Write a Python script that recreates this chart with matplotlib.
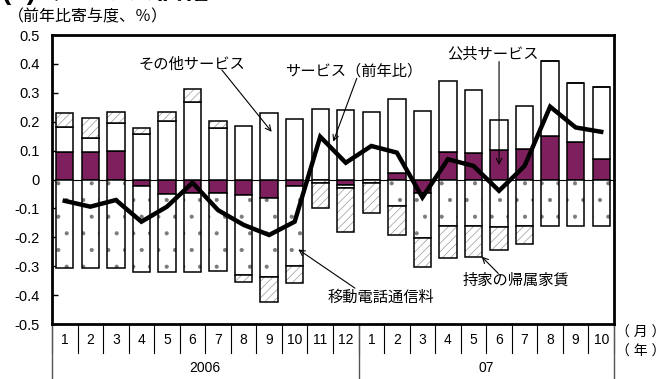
import numpy as np
import matplotlib
matplotlib.use("Agg")
import matplotlib.pyplot as plt
from matplotlib.ticker import FuncFormatter

plt.rcParams['font.family'] = ['Liberation Sans', 'Noto Sans CJK JP', 'DejaVu Sans']
plt.rcParams['hatch.linewidth'] = 0.5

# 2006/1 .. 2007/10
months = ['1', '2', '3', '4', '5', '6', '7', '8', '9', '10', '11', '12',
          '1', '2', '3', '4', '5', '6', '7', '8', '9', '10']
years = ['2006', '07']
year_len = [12, 10]

# contributions (% pt)
public = [0.094, 0.094, 0.100, -0.022, -0.051, -0.048, -0.048, -0.054, -0.065, -0.022, 0.0,
          -0.019, 0.0, 0.024, -0.046, 0.096, 0.093, 0.102, 0.104, 0.150, 0.131, 0.071]
other = [0.089, 0.051, 0.094, 0.156, 0.204, 0.267, 0.177, 0.185, 0.229, 0.208, 0.245,
         0.240, 0.232, 0.253, 0.238, 0.245, 0.217, 0.104, 0.152, 0.260, 0.204, 0.250]
mobile = [-0.305, -0.305, -0.305, -0.298, -0.269, -0.272, -0.270, -0.276, -0.273, -0.277, -0.012,
          -0.011, -0.012, -0.092, -0.158, -0.161, -0.161, -0.163, -0.161, -0.161, -0.161, -0.161]
rent = [0.046, 0.067, 0.040, 0.023, 0.031, 0.045, 0.027, -0.024, -0.085, -0.058, -0.086,
        -0.150, -0.103, -0.100, -0.098, -0.112, -0.108, -0.081, -0.062, 0.0, 0.0, 0.0]
services = [-0.074, -0.094, -0.071, -0.146, -0.094, -0.011, -0.106, -0.157, -0.192, -0.146, 0.148,
            0.058, 0.116, 0.093, -0.062, 0.070, 0.047, -0.039, 0.047, 0.252, 0.180, 0.165]

purple = '#7E1F5E'
x = np.arange(len(months))
w = 0.68

fig = plt.figure(figsize=(6.69, 3.79), dpi=100)
ax = fig.add_axes([52 / 669, 55 / 379, 562 / 669, 289 / 379])

pos = np.zeros(len(x))
neg = np.zeros(len(x))


def stack(vals, hatch_color=None, **kw):
    vals = np.asarray(vals)
    bottom = np.where(vals >= 0, pos, neg)
    bars = ax.bar(x, vals, w, bottom=bottom, edgecolor='black', linewidth=1.1, zorder=2, **kw)
    if hatch_color:
        for p in bars:
            p._hatch_color = matplotlib.colors.to_rgba(hatch_color)
    pos[:] = np.where(vals >= 0, pos + vals, pos)
    neg[:] = np.where(vals < 0, neg + vals, neg)


stack(public, color=purple)
stack(other, color='white')
stack(mobile, color='white', hatch='.', hatch_color='#7a7a7a')
stack(rent, color='white', hatch='////', hatch_color='#9a9a9a')

ax.axhline(0, color='black', lw=0.8, zorder=1)
ax.plot(x, services, color='black', lw=3.2, zorder=4, solid_joinstyle='miter')

ax.set_xlim(-0.5, len(x) - 0.5)
ax.set_ylim(-0.5, 0.5)
ax.set_yticks(np.round(np.arange(-0.5, 0.51, 0.1), 1))
ax.yaxis.set_major_formatter(FuncFormatter(lambda v, _: '0' if abs(v) < 1e-9 else f'{v:.1f}'))
ax.tick_params(axis='y', direction='in', length=4, width=1, labelsize=10.5, pad=9)
ax.set_xticks([])
for s in ax.spines.values():
    s.set_linewidth(2)

# month / year table under the axis
trans = ax.get_xaxis_transform()
for k in range(len(x) + 1):
    ax.plot([k - 0.5, k - 0.5], [0, -0.10], color='black', lw=0.8, transform=trans, clip_on=False)
for i, m in enumerate(months):
    ax.text(i, -0.055, m, ha='center', va='center', fontsize=10, transform=trans)
start = 0
for yl, n in zip(years, year_len):
    ax.plot([start - 0.5, start - 0.5], [0, -0.2], color='#555555', lw=1, transform=trans, clip_on=False)
    ax.text(start + n / 2 - 0.5, -0.152, yl, ha='center', va='center', fontsize=10, transform=trans)
    start += n
ax.plot([start - 0.5, start - 0.5], [0, -0.2], color='#555555', lw=1, transform=trans, clip_on=False)
ax.text(1.004, -0.031, '（ 月 ）', ha='left', va='center', fontsize=10, transform=ax.transAxes)
ax.text(1.004, -0.097, '（ 年 ）', ha='left', va='center', fontsize=10, transform=ax.transAxes)

# titles (the top title is cut by the image edge, as in the source)
fig.text(210 / 669, 1.026, '(2) サービス価格', fontsize=20, weight='bold', va='center', ha='right')
fig.text(0.012, 0.955, '（前年比寄与度、％）', fontsize=11.5, va='center', ha='left')

# annotations
arrow = dict(arrowstyle='->', color='black', lw=0.8, shrinkA=0, shrinkB=0)
ax.text(4.98, 0.396, 'その他サービス', fontsize=11, ha='center', va='center')
ax.annotate('', xy=(8.1, 0.165), xytext=(6.15, 0.379), arrowprops=arrow)
ax.text(11.32, 0.373, 'サービス（前年比）', fontsize=11, ha='center', va='center')
ax.annotate('', xy=(10.51, 0.131), xytext=(11.43, 0.350), arrowprops=arrow)
ax.text(16.76, 0.431, '公共サービス', fontsize=11, ha='center', va='center')
ax.annotate('', xy=(17.0, 0.050), xytext=(17.0, 0.408), arrowprops=arrow)
ax.text(12.38, -0.407, '移動電話通信料', fontsize=11, ha='center', va='center')
ax.annotate('', xy=(9.14, -0.242), xytext=(11.36, -0.376), arrowprops=arrow)
ax.text(17.66, -0.348, '持家の帰属家賃', fontsize=11, ha='center', va='center')
ax.annotate('', xy=(16.32, -0.267), xytext=(16.97, -0.325), arrowprops=arrow)

fig.savefig('out.png', dpi=100)
